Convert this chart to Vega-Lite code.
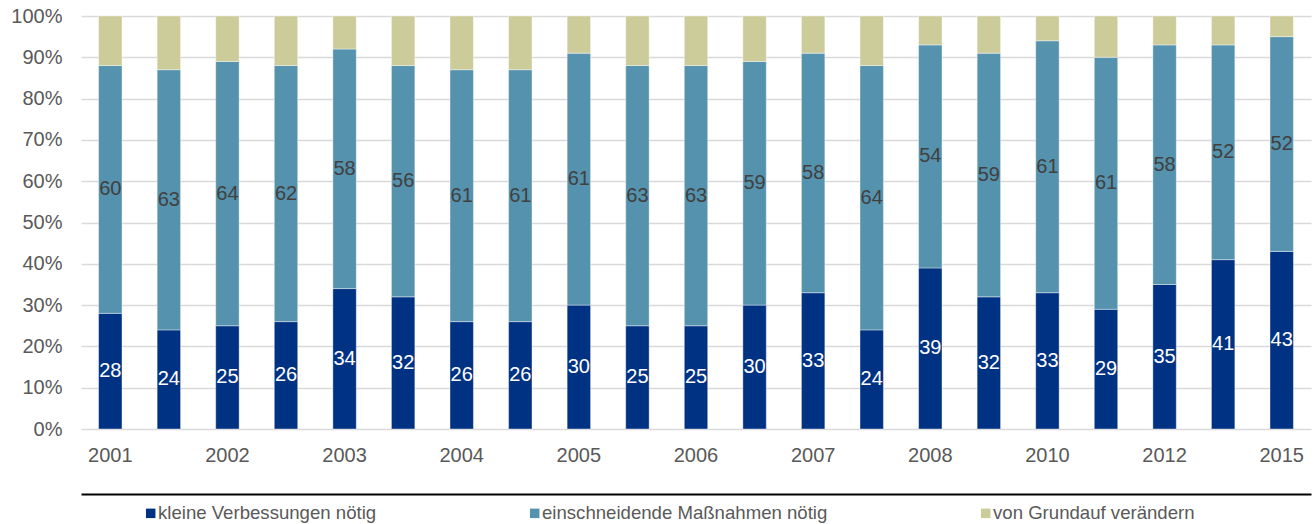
{
  "$schema": "https://vega.github.io/schema/vega-lite/v6.json",
  "autosize": {"type": "none"},
  "padding": {"left": 81, "top": 16, "right": 3, "bottom": 95},
  "width": 1230,
  "height": 413,
  "background": "#ffffff",
  "config": {
    "font": "Liberation Sans",
    "view": {"stroke": null},
    "axis": {"labelFont": "Liberation Sans", "labelColor": "#595959", "labelFontSize": 20}
  },
  "data": {
    "values": [
      {"welle": "2001", "antwort": "kleine Verbessungen nötig", "stufe": 1, "anteil": 28},
      {"welle": "2001", "antwort": "einschneidende Maßnahmen nötig", "stufe": 2, "anteil": 60},
      {"welle": "2001", "antwort": "von Grundauf verändern", "stufe": 3, "anteil": 12},
      {"welle": "2001/2", "antwort": "kleine Verbessungen nötig", "stufe": 1, "anteil": 24},
      {"welle": "2001/2", "antwort": "einschneidende Maßnahmen nötig", "stufe": 2, "anteil": 63},
      {"welle": "2001/2", "antwort": "von Grundauf verändern", "stufe": 3, "anteil": 13},
      {"welle": "2002", "antwort": "kleine Verbessungen nötig", "stufe": 1, "anteil": 25},
      {"welle": "2002", "antwort": "einschneidende Maßnahmen nötig", "stufe": 2, "anteil": 64},
      {"welle": "2002", "antwort": "von Grundauf verändern", "stufe": 3, "anteil": 11},
      {"welle": "2002/2", "antwort": "kleine Verbessungen nötig", "stufe": 1, "anteil": 26},
      {"welle": "2002/2", "antwort": "einschneidende Maßnahmen nötig", "stufe": 2, "anteil": 62},
      {"welle": "2002/2", "antwort": "von Grundauf verändern", "stufe": 3, "anteil": 12},
      {"welle": "2003", "antwort": "kleine Verbessungen nötig", "stufe": 1, "anteil": 34},
      {"welle": "2003", "antwort": "einschneidende Maßnahmen nötig", "stufe": 2, "anteil": 58},
      {"welle": "2003", "antwort": "von Grundauf verändern", "stufe": 3, "anteil": 8},
      {"welle": "2003/2", "antwort": "kleine Verbessungen nötig", "stufe": 1, "anteil": 32},
      {"welle": "2003/2", "antwort": "einschneidende Maßnahmen nötig", "stufe": 2, "anteil": 56},
      {"welle": "2003/2", "antwort": "von Grundauf verändern", "stufe": 3, "anteil": 12},
      {"welle": "2004", "antwort": "kleine Verbessungen nötig", "stufe": 1, "anteil": 26},
      {"welle": "2004", "antwort": "einschneidende Maßnahmen nötig", "stufe": 2, "anteil": 61},
      {"welle": "2004", "antwort": "von Grundauf verändern", "stufe": 3, "anteil": 13},
      {"welle": "2004/2", "antwort": "kleine Verbessungen nötig", "stufe": 1, "anteil": 26},
      {"welle": "2004/2", "antwort": "einschneidende Maßnahmen nötig", "stufe": 2, "anteil": 61},
      {"welle": "2004/2", "antwort": "von Grundauf verändern", "stufe": 3, "anteil": 13},
      {"welle": "2005", "antwort": "kleine Verbessungen nötig", "stufe": 1, "anteil": 30},
      {"welle": "2005", "antwort": "einschneidende Maßnahmen nötig", "stufe": 2, "anteil": 61},
      {"welle": "2005", "antwort": "von Grundauf verändern", "stufe": 3, "anteil": 9},
      {"welle": "2005/2", "antwort": "kleine Verbessungen nötig", "stufe": 1, "anteil": 25},
      {"welle": "2005/2", "antwort": "einschneidende Maßnahmen nötig", "stufe": 2, "anteil": 63},
      {"welle": "2005/2", "antwort": "von Grundauf verändern", "stufe": 3, "anteil": 12},
      {"welle": "2006", "antwort": "kleine Verbessungen nötig", "stufe": 1, "anteil": 25},
      {"welle": "2006", "antwort": "einschneidende Maßnahmen nötig", "stufe": 2, "anteil": 63},
      {"welle": "2006", "antwort": "von Grundauf verändern", "stufe": 3, "anteil": 12},
      {"welle": "2006/2", "antwort": "kleine Verbessungen nötig", "stufe": 1, "anteil": 30},
      {"welle": "2006/2", "antwort": "einschneidende Maßnahmen nötig", "stufe": 2, "anteil": 59},
      {"welle": "2006/2", "antwort": "von Grundauf verändern", "stufe": 3, "anteil": 11},
      {"welle": "2007", "antwort": "kleine Verbessungen nötig", "stufe": 1, "anteil": 33},
      {"welle": "2007", "antwort": "einschneidende Maßnahmen nötig", "stufe": 2, "anteil": 58},
      {"welle": "2007", "antwort": "von Grundauf verändern", "stufe": 3, "anteil": 9},
      {"welle": "2007/2", "antwort": "kleine Verbessungen nötig", "stufe": 1, "anteil": 24},
      {"welle": "2007/2", "antwort": "einschneidende Maßnahmen nötig", "stufe": 2, "anteil": 64},
      {"welle": "2007/2", "antwort": "von Grundauf verändern", "stufe": 3, "anteil": 12},
      {"welle": "2008", "antwort": "kleine Verbessungen nötig", "stufe": 1, "anteil": 39},
      {"welle": "2008", "antwort": "einschneidende Maßnahmen nötig", "stufe": 2, "anteil": 54},
      {"welle": "2008", "antwort": "von Grundauf verändern", "stufe": 3, "anteil": 7},
      {"welle": "2009", "antwort": "kleine Verbessungen nötig", "stufe": 1, "anteil": 32},
      {"welle": "2009", "antwort": "einschneidende Maßnahmen nötig", "stufe": 2, "anteil": 59},
      {"welle": "2009", "antwort": "von Grundauf verändern", "stufe": 3, "anteil": 9},
      {"welle": "2010", "antwort": "kleine Verbessungen nötig", "stufe": 1, "anteil": 33},
      {"welle": "2010", "antwort": "einschneidende Maßnahmen nötig", "stufe": 2, "anteil": 61},
      {"welle": "2010", "antwort": "von Grundauf verändern", "stufe": 3, "anteil": 6},
      {"welle": "2011", "antwort": "kleine Verbessungen nötig", "stufe": 1, "anteil": 29},
      {"welle": "2011", "antwort": "einschneidende Maßnahmen nötig", "stufe": 2, "anteil": 61},
      {"welle": "2011", "antwort": "von Grundauf verändern", "stufe": 3, "anteil": 10},
      {"welle": "2012", "antwort": "kleine Verbessungen nötig", "stufe": 1, "anteil": 35},
      {"welle": "2012", "antwort": "einschneidende Maßnahmen nötig", "stufe": 2, "anteil": 58},
      {"welle": "2012", "antwort": "von Grundauf verändern", "stufe": 3, "anteil": 7},
      {"welle": "2013", "antwort": "kleine Verbessungen nötig", "stufe": 1, "anteil": 41},
      {"welle": "2013", "antwort": "einschneidende Maßnahmen nötig", "stufe": 2, "anteil": 52},
      {"welle": "2013", "antwort": "von Grundauf verändern", "stufe": 3, "anteil": 7},
      {"welle": "2015", "antwort": "kleine Verbessungen nötig", "stufe": 1, "anteil": 43},
      {"welle": "2015", "antwort": "einschneidende Maßnahmen nötig", "stufe": 2, "anteil": 52},
      {"welle": "2015", "antwort": "von Grundauf verändern", "stufe": 3, "anteil": 5}
    ]
  },
  "resolve": {"axis": {"x": "independent"}},
  "layer": [
    {
      "mark": {"type": "bar", "stroke": "#ffffff", "strokeWidth": 0.8, "strokeOpacity": 0.5},
      "encoding": {
        "x": {
          "field": "welle",
          "type": "ordinal",
          "scale": {"paddingInner": 0.6, "paddingOuter": 0.3},
          "axis": {
            "orient": "bottom",
            "title": null,
            "values": ["2001", "2002", "2003", "2004", "2005", "2006", "2007", "2008", "2010", "2012", "2015"],
            "labelAngle": 0,
            "domain": false,
            "ticks": false,
            "tickSize": 0,
            "labelPadding": 16,
            "labelOverlap": false
          }
        },
        "y": {
          "field": "anteil",
          "type": "quantitative",
          "stack": "zero",
          "scale": {"domain": [0, 100], "nice": false},
          "axis": {
            "title": null,
            "values": [0, 10, 20, 30, 40, 50, 60, 70, 80, 90, 100],
            "labelExpr": "datum.value + '%'",
            "domain": false,
            "ticks": false,
            "tickSize": 0,
            "labelPadding": 19,
            "grid": true,
            "gridColor": "#d9d9d9",
            "gridWidth": 1.3
          }
        },
        "color": {
          "field": "antwort",
          "type": "nominal",
          "scale": {
            "domain": ["kleine Verbessungen nötig", "einschneidende Maßnahmen nötig", "von Grundauf verändern"],
            "range": ["#003283", "#5592ad", "#cccb9a"]
          },
          "legend": {
            "title": null,
            "orient": "none",
            "direction": "horizontal",
            "legendX": 60.4,
            "legendY": 488,
            "padding": 0,
            "symbolType": "square",
            "symbolSize": 90,
            "symbolStrokeWidth": 0,
            "labelFont": "Liberation Sans",
            "labelFontSize": 18.6,
            "labelColor": "#595959",
            "labelOffset": -2,
            "labelLimit": 400,
            "columnPadding": 149
          }
        },
        "order": {"field": "stufe", "type": "ordinal"}
      }
    },
    {
      "mark": {"type": "text", "fontSize": 20, "font": "Liberation Sans", "baseline": "middle", "align": "center"},
      "encoding": {
        "x": {
          "field": "welle",
          "type": "ordinal",
          "axis": {
            "orient": "bottom",
            "offset": 65,
            "title": null,
            "labels": false,
            "ticks": false,
            "grid": false,
            "domain": true,
            "domainColor": "#000000",
            "domainWidth": 2
          }
        },
        "y": {"field": "anteil", "type": "quantitative", "stack": "zero", "bandPosition": 0.5},
        "detail": {"field": "antwort"},
        "order": {"field": "stufe", "type": "ordinal"},
        "text": {"condition": {"test": "datum.stufe == 3", "value": ""}, "field": "anteil", "type": "quantitative"},
        "color": {"condition": {"test": "datum.stufe == 1", "value": "#ffffff"}, "value": "#404040"}
      }
    }
  ]
}
